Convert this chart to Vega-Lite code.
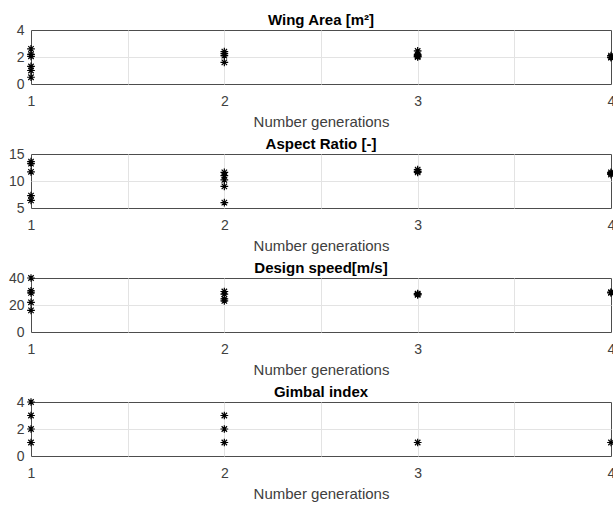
{
  "$schema": "https://vega.github.io/schema/vega-lite/v6.json",
  "padding": {"left": 7, "top": 12, "right": 0, "bottom": 0},
  "background": "white",
  "bounds": "flush",
  "spacing": 70,
  "config": {
    "font": "Liberation Sans",
    "view": {"stroke": "#4d4d4d", "strokeWidth": 1},
    "axis": {"domain": false, "ticks": false, "labelFont": "Liberation Sans", "labelFontSize": 14, "labelColor": "#404040", "labelFlush": false, "labelOverlap": false, "gridColor": "#e3e3e3", "gridWidth": 1, "titleFont": "Liberation Sans", "titleFontSize": 15, "titleFontWeight": "normal", "titleColor": "#404040"},
    "axisX": {"labelPadding": 10, "titlePadding": 6, "gridOpacity": {"condition": {"test": "datum.value == 1 || datum.value == 4", "value": 0}, "value": 1}},
    "axisY": {"labelPadding": 7},
    "title": {"fontSize": 15, "fontWeight": "bold", "color": "#000000", "offset": -5, "baseline": "alphabetic", "font": "Liberation Sans"}
  },
  "datasets": {
    "wing": [
      {"gen": 1, "value": 2.6}, {"gen": 1, "value": 2.2}, {"gen": 1, "value": 2.05}, {"gen": 1, "value": 1.3}, {"gen": 1, "value": 1.0}, {"gen": 1, "value": 0.5},
      {"gen": 2, "value": 2.4}, {"gen": 2, "value": 2.25}, {"gen": 2, "value": 2.1}, {"gen": 2, "value": 1.6},
      {"gen": 3, "value": 2.45}, {"gen": 3, "value": 2.2}, {"gen": 3, "value": 2.1}, {"gen": 3, "value": 2.0}, {"gen": 3, "value": 2.05},
      {"gen": 4, "value": 2.1}, {"gen": 4, "value": 2.0}, {"gen": 4, "value": 1.95}
    ],
    "aspect": [
      {"gen": 1, "value": 13.6}, {"gen": 1, "value": 13.2}, {"gen": 1, "value": 11.7}, {"gen": 1, "value": 7.3}, {"gen": 1, "value": 6.4},
      {"gen": 2, "value": 11.6}, {"gen": 2, "value": 11.0}, {"gen": 2, "value": 10.2}, {"gen": 2, "value": 9.0}, {"gen": 2, "value": 6.0},
      {"gen": 3, "value": 12.1}, {"gen": 3, "value": 11.8}, {"gen": 3, "value": 11.6},
      {"gen": 4, "value": 11.6}, {"gen": 4, "value": 11.4}, {"gen": 4, "value": 11.2}
    ],
    "speed": [
      {"gen": 1, "value": 40}, {"gen": 1, "value": 30.5}, {"gen": 1, "value": 29}, {"gen": 1, "value": 22}, {"gen": 1, "value": 16},
      {"gen": 2, "value": 30}, {"gen": 2, "value": 28}, {"gen": 2, "value": 24.5}, {"gen": 2, "value": 23},
      {"gen": 3, "value": 28.5}, {"gen": 3, "value": 28}, {"gen": 3, "value": 27.5},
      {"gen": 4, "value": 29.5}, {"gen": 4, "value": 29}
    ],
    "gimbal": [
      {"gen": 1, "value": 4}, {"gen": 1, "value": 3}, {"gen": 1, "value": 2}, {"gen": 1, "value": 1},
      {"gen": 2, "value": 3}, {"gen": 2, "value": 2}, {"gen": 2, "value": 1},
      {"gen": 3, "value": 1},
      {"gen": 4, "value": 1}
    ]
  },
  "vconcat": [
    {
      "width": 580, "height": 54,
      "view": {"stroke": "#4d4d4d", "strokeWidth": 1},
      "title": "Wing Area [m²]",
      "data": {"name": "wing"},
      "mark": {"type": "point", "shape": "M-1,0L1,0M0,-1L0,1M-0.7,-0.7L0.7,0.7M-0.7,0.7L0.7,-0.7", "filled": false, "stroke": "black", "strokeWidth": 1.2, "size": 60, "opacity": 1},
      "encoding": {
        "x": {"field": "gen", "type": "quantitative", "scale": {"domain": [1, 4], "nice": false, "zero": false}, "axis": {"title": "Number generations", "values": [1, 1.5, 2, 2.5, 3, 3.5, 4], "labelExpr": "datum.value % 1 == 0 ? format(datum.value, 'd') : ''"}},
        "y": {"field": "value", "type": "quantitative", "scale": {"domain": [0, 4], "nice": false}, "axis": {"title": null, "values": [0, 2, 4], "gridOpacity": {"condition": {"test": "datum.value == 0 || datum.value == 4", "value": 0}, "value": 1}}}
      }
    },
    {
      "width": 580, "height": 54,
      "view": {"stroke": "#4d4d4d", "strokeWidth": 1},
      "title": "Aspect Ratio [-]",
      "data": {"name": "aspect"},
      "mark": {"type": "point", "shape": "M-1,0L1,0M0,-1L0,1M-0.7,-0.7L0.7,0.7M-0.7,0.7L0.7,-0.7", "filled": false, "stroke": "black", "strokeWidth": 1.2, "size": 60, "opacity": 1},
      "encoding": {
        "x": {"field": "gen", "type": "quantitative", "scale": {"domain": [1, 4], "nice": false, "zero": false}, "axis": {"title": "Number generations", "values": [1, 1.5, 2, 2.5, 3, 3.5, 4], "labelExpr": "datum.value % 1 == 0 ? format(datum.value, 'd') : ''"}},
        "y": {"field": "value", "type": "quantitative", "scale": {"domain": [5, 15], "nice": false, "zero": false}, "axis": {"title": null, "values": [5, 10, 15], "gridOpacity": {"condition": {"test": "datum.value == 5 || datum.value == 15", "value": 0}, "value": 1}}}
      }
    },
    {
      "width": 580, "height": 54,
      "view": {"stroke": "#4d4d4d", "strokeWidth": 1},
      "title": "Design speed[m/s]",
      "data": {"name": "speed"},
      "mark": {"type": "point", "shape": "M-1,0L1,0M0,-1L0,1M-0.7,-0.7L0.7,0.7M-0.7,0.7L0.7,-0.7", "filled": false, "stroke": "black", "strokeWidth": 1.2, "size": 60, "opacity": 1},
      "encoding": {
        "x": {"field": "gen", "type": "quantitative", "scale": {"domain": [1, 4], "nice": false, "zero": false}, "axis": {"title": "Number generations", "values": [1, 1.5, 2, 2.5, 3, 3.5, 4], "labelExpr": "datum.value % 1 == 0 ? format(datum.value, 'd') : ''"}},
        "y": {"field": "value", "type": "quantitative", "scale": {"domain": [0, 40], "nice": false}, "axis": {"title": null, "values": [0, 20, 40], "gridOpacity": {"condition": {"test": "datum.value == 0 || datum.value == 40", "value": 0}, "value": 1}}}
      }
    },
    {
      "width": 580, "height": 54,
      "view": {"stroke": "#4d4d4d", "strokeWidth": 1},
      "title": "Gimbal index",
      "data": {"name": "gimbal"},
      "mark": {"type": "point", "shape": "M-1,0L1,0M0,-1L0,1M-0.7,-0.7L0.7,0.7M-0.7,0.7L0.7,-0.7", "filled": false, "stroke": "black", "strokeWidth": 1.2, "size": 60, "opacity": 1},
      "encoding": {
        "x": {"field": "gen", "type": "quantitative", "scale": {"domain": [1, 4], "nice": false, "zero": false}, "axis": {"title": "Number generations", "values": [1, 1.5, 2, 2.5, 3, 3.5, 4], "labelExpr": "datum.value % 1 == 0 ? format(datum.value, 'd') : ''"}},
        "y": {"field": "value", "type": "quantitative", "scale": {"domain": [0, 4], "nice": false}, "axis": {"title": null, "values": [0, 2, 4], "gridOpacity": {"condition": {"test": "datum.value == 0 || datum.value == 4", "value": 0}, "value": 1}}}
      }
    }
  ]
}
